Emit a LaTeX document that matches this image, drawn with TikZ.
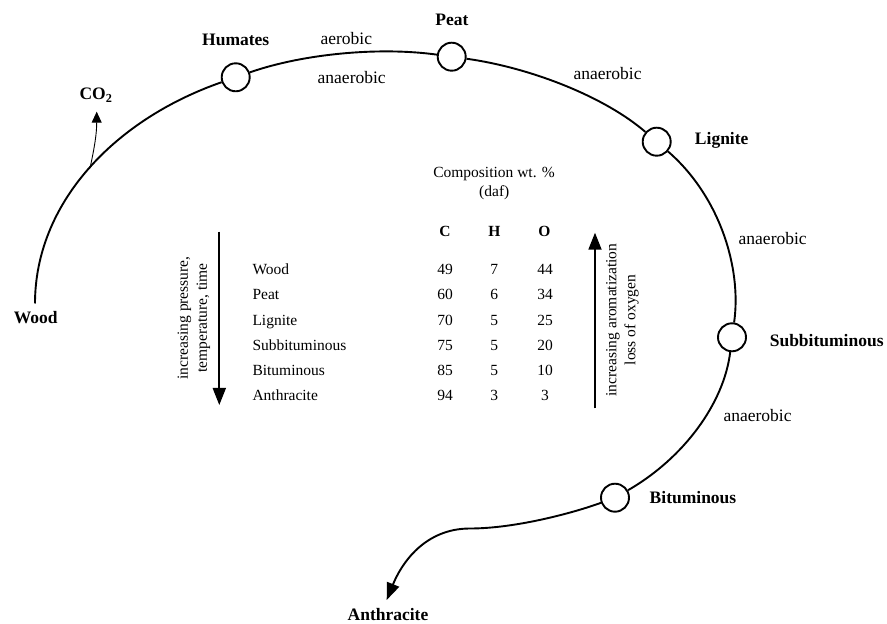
\documentclass[tikz,border=0pt]{standalone}
\usepackage{fontspec}
\setmainfont{Liberation Serif}
\usetikzlibrary{arrows.meta}
\begin{document}
\begin{tikzpicture}[x=1pt,y=1pt,
  stage/.style={circle,draw,line width=1.9pt,minimum size=28pt,inner sep=0pt,fill=white},
  stagelbl/.style={font=\fontsize{17.5}{20}\selectfont\bfseries,inner sep=0pt,anchor=base},
  proclbl/.style={font=\fontsize{17.5}{20}\selectfont,inner sep=0pt,anchor=base},
  tabtxt/.style={font=\fontsize{15.5}{18}\selectfont,inner sep=0pt,anchor=base},
  tabhead/.style={font=\fontsize{15.5}{18}\selectfont\bfseries,inner sep=0pt,anchor=base},
  rottxt/.style={font=\fontsize{15.5}{19}\selectfont,inner sep=0pt,rotate=90,align=center},
  coalpath/.style={line width=1.9pt},
  bigarrow/.style={line width=1.8pt,-{Triangle[length=17pt,width=13pt]}},
]
\useasboundingbox (0,0) rectangle (887,624);

% stage circles
\node[stage] (hum) at (235.7,546.7) {};
\node[stage] (peat) at (451.7,567.3) {};
\node[stage] (lig) at (656.7,482.3) {};
\node[stage] (sub) at (732,286.7) {};
\node[stage] (bit) at (615,126.3) {};

% stage labels
\node[stagelbl] (wood) at (35.8,300.7) {Wood};
\node[stagelbl] (humL) at (235.7,578.8) {Humates};
\node[stagelbl] (peatL) at (452,598.1) {Peat};
\node[stagelbl] (ligL) at (721.7,479) {Lignite};
\node[stagelbl] (subL) at (826.7,277.3) {Subbituminous};
\node[stagelbl] (bitL) at (693,120) {Bituminous};
\node[stagelbl] (anth) at (388,3) {Anthracite};
\node[stagelbl] (co2) at (96,524) {CO\textsubscript{2}};

% process labels
\node[proclbl] (p1) at (346.3,579) {aerobic};
\node[proclbl] (p2) at (351.7,540.7) {anaerobic};
\node[proclbl] (p3) at (607.5,544) {anaerobic};
\node[proclbl] (p4) at (772.7,379) {anaerobic};
\node[proclbl] (p5) at (757.5,202.3) {anaerobic};

% main path
\coordinate (w0) at (35,320.5);
\draw[coalpath] (w0) .. controls (35,420.1) and (113.3,504.0) .. (hum);
\draw[coalpath] (hum) .. controls (302.8,570.1) and (378.7,577.4) .. (peat);
\draw[coalpath] (peat) .. controls (530.5,556.4) and (604.7,527.2) .. (lig);
\draw[coalpath] (lig) .. controls (718.9,428.5) and (742.0,356.9) .. (sub);
\draw[coalpath] (sub) .. controls (724,221) and (684,166) .. (bit);
\coordinate (bend) at (470,95.5);
\coordinate (anthtip) at (386.7,24);
\draw[coalpath,-{Triangle[length=17pt,width=13pt]}] (bit) .. controls (572.7,110.9) and (515,95.5) .. (bend) .. controls (425,95.5) and (401.7,61.1) .. (anthtip);

% CO2 arrow
\coordinate (co2b) at (90,455.7);
\coordinate (co2t) at (96.7,512.3);
\draw[line width=0.9pt,-{Triangle[length=11pt,width=10pt]}] (co2b) to[out=78,in=-90] (co2t);

% vertical arrows
\coordinate (la0) at (219.3,392.3);
\coordinate (la1) at (219.3,219);
\draw[bigarrow] (la0) -- (la1);
\coordinate (ra0) at (595,215.7);
\coordinate (ra1) at (595,391.3);
\draw[bigarrow] (ra0) -- (ra1);
\node[rottxt] (lt) at (194,306) {increasing pressure,\\temperature, time};
\node[rottxt] (rt) at (622.5,304) {increasing aromatization\\loss of oxygen};

% table
\node[tabtxt] (comp) at (494,446.5) {Composition wt. \%};
\node[tabtxt] (daf) at (494.3,427.7) {(daf)};
\node[tabhead] (hC) at (445,387) {C};
\node[tabhead] (hH) at (494.3,387) {H};
\node[tabhead] (hO) at (544.5,387) {O};
\foreach \n/\c/\h/\o [count=\i] in {Wood/49/7/44, Peat/60/6/34, Lignite/70/5/25, Subbituminous/75/5/20, Bituminous/85/5/10, Anthracite/94/3/3} {
  \pgfmathsetmacro\yy{349.3-25.2*(\i-1)}
  \node[tabtxt,anchor=base west] (r\i n) at (252.3,\yy) {\n};
  \node[tabtxt] (r\i c) at (445,\yy) {\c};
  \node[tabtxt] (r\i h) at (494.3,\yy) {\h};
  \node[tabtxt] (r\i o) at (545,\yy) {\o};
}
\end{tikzpicture}
\end{document}
